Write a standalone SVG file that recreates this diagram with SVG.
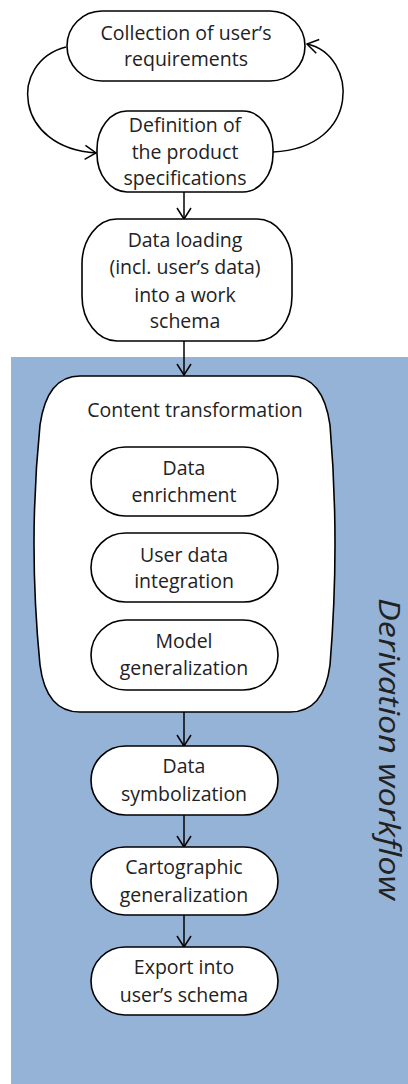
<svg xmlns="http://www.w3.org/2000/svg" width="408" height="1084" viewBox="0 0 408 1084">
<style>
.n{fill:#fff;stroke:#000;stroke-width:1.6}
.t{font-family:"Open Sans","Liberation Sans",sans-serif;font-size:19.5px;fill:#222;text-anchor:middle}
.c{fill:none;stroke:#000;stroke-width:1.5}
</style>
<defs>
<marker id="a" viewBox="0 0 14 16" refX="12" refY="8" markerWidth="14" markerHeight="16" markerUnits="userSpaceOnUse" orient="auto">
<path d="M1,1 L12,8 L1,15" fill="none" stroke="#000" stroke-width="1.5"/>
</marker>
</defs>
<rect x="11" y="357" width="397" height="727" fill="#95b3d7"/>
<text class="t" style="font-size:29px;font-style:italic" transform="translate(379,749) rotate(90)" textLength="302" lengthAdjust="spacingAndGlyphs">Derivation workflow</text>
<g id="connectors">
<path class="c" d="M66,47 C8,62 14,148 96,153" marker-end="url(#a)"/>
<path class="c" d="M273,152 C362,148 358,55 307,44" marker-end="url(#a)"/>
<path class="c" d="M184,192 V219" marker-end="url(#a)"/>
<path class="c" d="M184,341 V375" marker-end="url(#a)"/>
<path class="c" d="M184,712 V746" marker-end="url(#a)"/>
<path class="c" d="M184,815 V847" marker-end="url(#a)"/>
<path class="c" d="M184,915 V947" marker-end="url(#a)"/>
</g>
<g id="n1"><rect class="n" x="67" y="11" width="238" height="70" rx="35" ry="35"/>
<text class="t" x="186" y="40">Collection of user’s</text><text class="t" x="186" y="66">requirements</text></g>
<g id="n2"><rect class="n" x="97" y="111" width="176" height="81" rx="30" ry="38"/>
<text class="t" x="185" y="132">Definition of</text><text class="t" x="185" y="159">the product</text><text class="t" x="185" y="185">specifications</text></g>
<g id="n3"><rect class="n" x="82" y="219" width="210" height="122" rx="35" ry="45"/>
<text class="t" x="185" y="247">Data loading</text><text class="t" x="185" y="274">(incl. user’s data)</text><text class="t" x="185" y="302">into a work</text><text class="t" x="185" y="328">schema</text></g>
<g id="ct"><path class="n" d="M80,376 L290,376 Q323,376 330,425 Q340,543 330,665 Q324,712 290,712 L80,712 Q46,712 40,665 Q28,543 40,425 Q47,376 80,376 Z"/>
<text class="t" x="195" y="417">Content transformation</text></g>
<g id="n4"><rect class="n" x="91" y="447" width="187" height="69" rx="34.5"/>
<text class="t" x="184" y="475">Data</text><text class="t" x="184" y="502">enrichment</text></g>
<g id="n5"><rect class="n" x="91" y="533" width="187" height="69" rx="34.5"/>
<text class="t" x="184" y="562">User data</text><text class="t" x="184" y="588">integration</text></g>
<g id="n6"><rect class="n" x="91" y="620" width="187" height="70" rx="35"/>
<text class="t" x="184" y="648">Model</text><text class="t" x="184" y="675">generalization</text></g>
<g id="n7"><rect class="n" x="91" y="746" width="187" height="69" rx="34.5"/>
<text class="t" x="184" y="773">Data</text><text class="t" x="184" y="801">symbolization</text></g>
<g id="n8"><rect class="n" x="91" y="847" width="187" height="68" rx="34"/>
<text class="t" x="184" y="874">Cartographic</text><text class="t" x="184" y="902">generalization</text></g>
<g id="n9"><rect class="n" x="91" y="947" width="187" height="68" rx="34"/>
<text class="t" x="184" y="974">Export into</text><text class="t" x="184" y="1002">user’s schema</text></g>
</svg>
